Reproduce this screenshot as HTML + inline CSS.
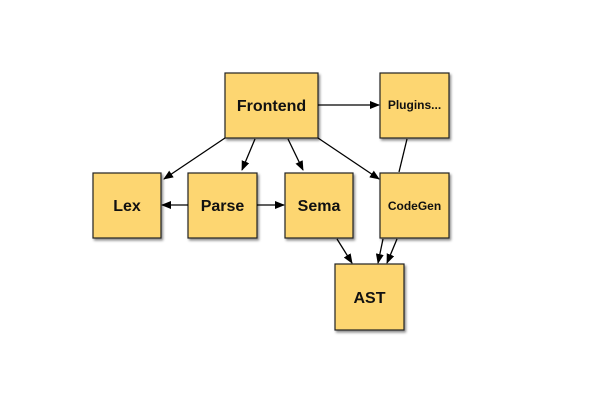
<!DOCTYPE html>
<html><head><style>
html,body{margin:0;padding:0;background:#fff;width:604px;height:402px;overflow:hidden}
</style></head><body>
<svg width="604" height="402" viewBox="0 0 604 402" xmlns="http://www.w3.org/2000/svg" font-family="Liberation Sans, sans-serif">
<defs>
<marker id="a" markerWidth="10" markerHeight="8" refX="9" refY="4" orient="auto" markerUnits="userSpaceOnUse">
<path d="M0,0 L10,4 L0,8 z" fill="#000"/></marker>
<filter id="s" x="-20%" y="-20%" width="150%" height="150%"><feDropShadow dx="1.5" dy="2" stdDeviation="1.2" flood-color="#000" flood-opacity="0.45"/></filter>
</defs>
<g fill="#fdd671" stroke="#222" stroke-width="1.2" filter="url(#s)">
<rect x="225" y="73" width="93" height="65"/>
<rect x="380" y="73" width="69" height="65"/>
<rect x="93" y="173" width="68" height="65"/>
<rect x="188" y="173" width="69" height="65"/>
<rect x="285" y="173" width="68" height="65"/>
<rect x="380" y="173" width="69" height="65"/>
<rect x="335" y="264" width="69" height="66"/>
</g>
<g stroke="#000" stroke-width="1.3" fill="none" marker-end="url(#a)">
<line x1="318" y1="105" x2="379" y2="105"/>
<line x1="225" y1="138" x2="164" y2="179"/>
<line x1="255" y1="139" x2="242" y2="170"/>
<line x1="288" y1="139" x2="303" y2="170"/>
<line x1="318" y1="138" x2="379" y2="179"/>
<line x1="188" y1="205" x2="162" y2="205"/>
<line x1="257" y1="205" x2="284" y2="205"/>
<line x1="337" y1="239" x2="352" y2="263"/>
<line x1="383" y1="239" x2="378" y2="263"/>
<line x1="397" y1="239" x2="387" y2="263"/>
</g>
<line x1="407" y1="139" x2="399" y2="172" stroke="#000" stroke-width="1.3"/>
<g font-weight="bold" text-anchor="middle" fill="#111">
<text x="271.5" y="111" font-size="16">Frontend</text>
<text x="414.5" y="109" font-size="12">Plugins...</text>
<text x="127" y="211" font-size="16">Lex</text>
<text x="222.5" y="211" font-size="16">Parse</text>
<text x="319" y="211" font-size="16">Sema</text>
<text x="414.5" y="210" font-size="12">CodeGen</text>
<text x="369.5" y="303" font-size="16">AST</text>
</g>
</svg>
</body></html>
